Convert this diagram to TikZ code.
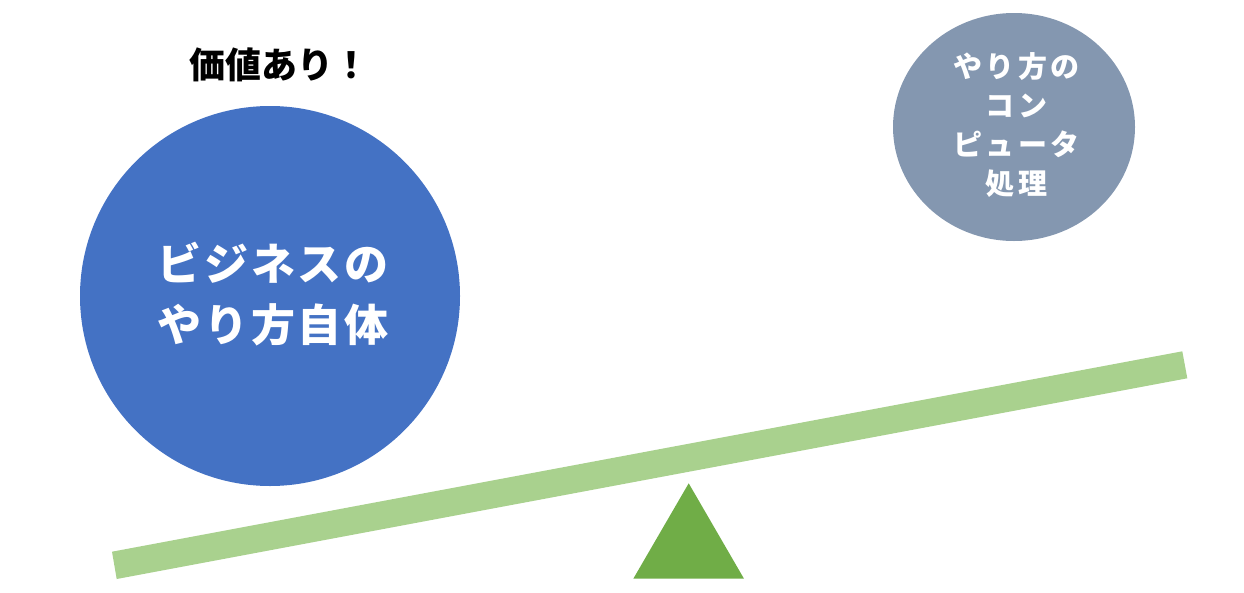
\documentclass[tikz,border=0pt]{standalone}
\usepackage{fontspec}
\newfontfamily\jp{Noto Sans CJK JP}
\newfontfamily\jpbig{Noto Sans CJK JP}[LetterSpace=6]
\newfontfamily\jpsmall{Noto Sans CJK JP}[LetterSpace=12]
\usetikzlibrary{shapes.geometric}
\definecolor{bigblue}{HTML}{4472C4}
\definecolor{smallgrey}{HTML}{8497B0}
\definecolor{beamgreen}{HTML}{A9D18E}
\definecolor{pivotgreen}{HTML}{70AD47}
\tikzset{
  bigtext/.style={text=white, align=center, font=\jpbig\bfseries\fontsize{44}{61}\selectfont},
  smalltext/.style={text=white, align=center, font=\jpsmall\bfseries\fontsize{29}{39}\selectfont},
  titletext/.style={text=black, font=\jp\bfseries\fontsize{36}{40}\selectfont},
}
\begin{document}
\begin{tikzpicture}[x=1pt,y=-1pt]
\useasboundingbox (0,0) rectangle (1244,592);
% beam
\fill[beamgreen] (112,551.7) -- (116.7,579) -- (1187.3,378.3) -- (1182.3,351.3) -- cycle;
% pivot
\fill[pivotgreen] (688.7,483.3) -- (633.3,578.7) -- (744,578.7) -- cycle;
% big circle
\node[circle, fill=bigblue, minimum size=380pt, inner sep=0pt] (big) at (270,296) {};
\node[bigtext] (bigt) at (273,294) {ビジネスの\\やり方自体};
% small circle
\node[ellipse, fill=smallgrey, minimum width=242pt, minimum height=228pt, inner sep=0pt] (small) at (1014,127) {};
\node[smalltext] (smallt) at (1016.5,125) {やり方の\\コン\\ピュータ\\処理};
% title
\node[titletext] (title) at (279,65) {価値あり！};
\end{tikzpicture}
\end{document}
